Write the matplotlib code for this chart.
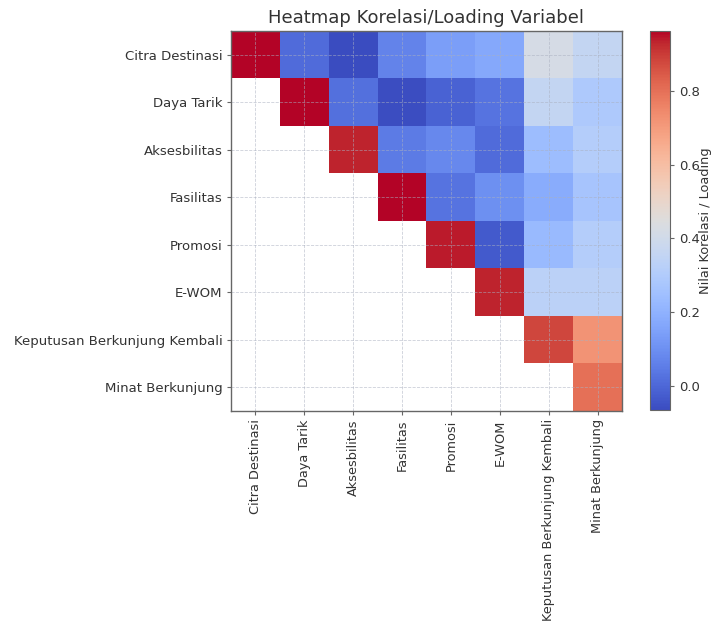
import numpy as np
import matplotlib
matplotlib.use("Agg")
import matplotlib.pyplot as plt

labels = [
    "Citra Destinasi",
    "Daya Tarik",
    "Aksesbilitas",
    "Fasilitas",
    "Promosi",
    "E-WOM",
    "Keputusan Berkunjung Kembali",
    "Minat Berkunjung",
]

# Upper-triangle values per row (starting at the diagonal)
row_citra = [0.962, 0.01, -0.065, 0.07, 0.14, 0.17, 0.42, 0.36]
row_daya = [0.962, 0.02, -0.06, -0.01, 0.03, 0.36, 0.29]
row_akses = [0.93, 0.05, 0.08, 0.01, 0.24, 0.31]
row_fasilitas = [0.962, 0.03, 0.10, 0.18, 0.27]
row_promosi = [0.94, -0.03, 0.23, 0.31]
row_ewom = [0.93, 0.33, 0.33]
row_keputusan = [0.88, 0.72]
row_minat = [0.80]

rows = [row_citra, row_daya, row_akses, row_fasilitas,
        row_promosi, row_ewom, row_keputusan, row_minat]

n = len(labels)
mat = np.full((n, n), np.nan)
for i, r in enumerate(rows):
    mat[i, i:] = r
data = np.ma.masked_invalid(mat)

fs = 9.5
fig = plt.figure(figsize=(7.11, 6.23), dpi=100)
ax = fig.add_axes([231 / 711, 1 - 411 / 623, 391 / 711, 380 / 623])
im = ax.imshow(data, cmap="coolwarm", aspect="auto", interpolation="nearest")

ax.set_xticks(range(n))
ax.set_yticks(range(n))
ax.set_xticklabels(labels, rotation=90, fontsize=9.3)
ax.set_yticklabels(labels, fontsize=fs)
ax.grid(True, linestyle="--", color="#aab0c0", linewidth=0.6, alpha=0.6)
for s in ax.spines.values():
    s.set_color("#666666")
    s.set_linewidth(1.0)
ax.tick_params(colors="#666666", labelcolor="#333333", length=3, pad=3)
ax.set_title("Heatmap Korelasi/Loading Variabel", fontsize=13, color="#333333", pad=6)

cax = fig.add_axes([650 / 711, 1 - 410 / 623, 20 / 711, 379 / 623])
cb = fig.colorbar(im, cax=cax)
cb.set_ticks([0.0, 0.2, 0.4, 0.6, 0.8])
cb.ax.tick_params(labelsize=fs, colors="#666666", labelcolor="#333333", length=3)
cb.outline.set_edgecolor("#666666")
cb.set_label("Nilai Korelasi / Loading", fontsize=9.3, color="#333333")
cb.ax.yaxis.set_label_coords(2.45, 0.5)

fig.savefig("out.png", dpi=100)
